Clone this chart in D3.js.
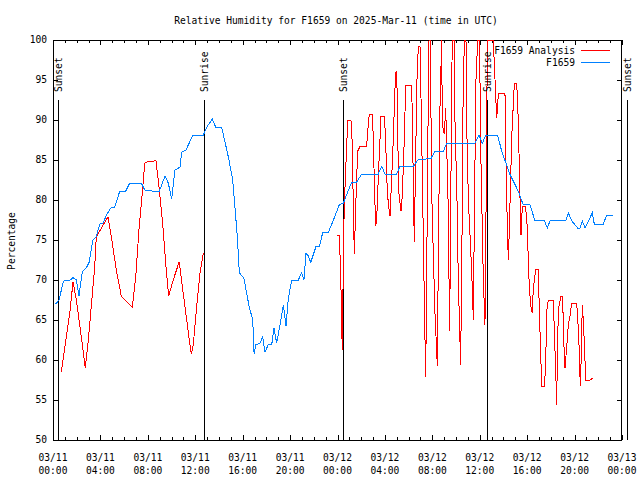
<!DOCTYPE html>
<html>
<head>
<meta charset="utf-8">
<script src="https://cdn.jsdelivr.net/npm/d3@7"></script>
<style>
  html, body { margin: 0; padding: 0; background: #fff; }
  svg { display: block; }
  text { font-family: "DejaVu Sans Mono", monospace; font-size: 9.6px; fill: #000; }
</style>
</head>
<body>
<svg id="chart" width="640" height="480"></svg>
<script>
// ---------- DATA (hours since 2025-03-11 00:00 UTC) ----------
const titleText = "Relative Humidity for F1659 on 2025-Mar-11 (time in UTC)";
const yLabelText = "Percentage";
const seriesNames = ["F1659 Analysis", "F1659"];
const seriesColors = ["#ff0000", "#0080ff"];

const obsHours = [0.23,0.51,0.84,0.99,1.46,1.69,1.97,2.19,2.47,2.81,3.04,3.37,3.65,3.94,4.22,4.50,4.92,5.20,5.63,6.13,6.47,7.45,7.74,8.44,8.97,9.45,9.73,10.01,10.29,10.71,10.86,11.22,11.79,12.68,13.02,13.44,13.73,14.23,14.79,15.16,15.55,15.72,16.11,16.34,16.56,16.85,16.96,17.12,17.46,17.69,17.88,18.16,18.45,18.64,18.87,19.15,19.43,19.66,19.85,20.14,20.69,20.98,21.17,21.34,21.54,21.74,22.19,22.47,22.75,23.22,23.79,24.15,24.49,25.20,25.62,26.04,27.44,27.73,28.01,28.99,29.27,30.40,30.77,31.89,32.23,32.93,33.21,35.60,35.94,36.22,36.50,37.51,37.85,38.55,39.25,39.67,40.24,40.66,41.45,41.70,41.93,43.25,43.47,43.76,44.26,44.46,44.65,44.88,45.50,45.66,46.42,46.71,47.22];
const obsValues = [67.0,67.5,69.6,70.0,70.0,70.3,70.0,68.0,71.0,71.5,72.2,75.0,75.4,77.0,77.1,78.1,79.1,79.1,81.1,81.1,82.1,82.1,81.25,81.1,81.1,83.0,82.1,80.1,83.75,84.1,86.0,86.25,88.1,88.1,89.25,90.1,89.1,89.1,85.4,82.5,75.4,70.9,70.2,68.3,66.6,65.0,60.8,61.9,62.1,62.9,61.0,61.9,61.9,64.0,62.1,64.4,66.9,64.2,67.7,70.0,70.0,70.9,70.0,73.3,73.0,72.2,74.2,74.2,75.9,75.9,78.0,79.4,79.6,82.25,82.25,83.25,83.25,84.2,83.25,83.25,84.2,84.2,85.0,85.2,86.1,86.1,87.1,87.1,88.1,87.1,88.1,88.1,86.1,83.2,81.1,79.4,79.4,77.4,77.4,76.5,77.4,77.4,78.4,77.4,76.5,76.5,77.4,76.5,78.4,77.0,77.0,78.1,78.1];

const anaHours = [0.70,0.84,1.12,1.41,1.69,1.97,2.39,2.67,2.72,2.95,3.23,3.52,3.65,4.64,4.92,5.34,5.76,6.69,6.98,7.25,7.53,7.74,8.01,8.69,8.97,9.25,9.53,9.76,10.10,10.65,10.99,11.28,11.50,11.67,11.84,12.12,12.40,12.68,
  18.00,
  23.93,24.13,24.21,24.30,24.35,24.41,24.49,24.57,24.78,24.86,25.14,25.25,25.33,25.42,25.54,25.70,25.90,26.46,26.55,26.68,26.94,27.02,27.10,27.22,27.31,27.44,27.59,27.67,27.95,28.06,28.15,28.29,28.43,28.57,28.71,28.85,28.94,29.02,29.08,29.19,29.36,29.47,29.64,29.75,30.26,30.34,30.43,30.48,30.60,30.71,30.82,30.96,
  31.08,31.21,31.34,31.44,31.52,31.64,31.72,31.84,31.93,32.05,32.22,32.42,32.52,32.65,32.79,32.84,33.01,33.13,33.24,33.35,33.41,33.46,33.53,33.62,33.68,33.83,33.91,34.08,34.19,34.39,34.50,34.59,34.70,34.84,34.92,35.04,35.32,35.46,35.56,35.68,35.83,35.98,36.10,36.30,36.44,36.57,36.64,37.14,
  37.29,37.43,37.57,38.13,38.22,38.33,38.41,38.49,38.61,38.70,38.92,39.12,39.25,39.40,39.48,39.59,39.82,39.96,40.10,40.18,40.32,40.43,40.52,40.72,40.94,41.00,41.08,41.23,41.45,41.56,41.65,41.78,42.21,42.29,42.41,42.49,42.58,42.69,42.86,43.00,43.05,43.19,43.33,43.47,43.61,43.76,44.18,44.31,44.40,44.48,44.54,44.65,44.74,44.82,44.94,45.30,45.58];
const anaValues = [58.5,60.0,62.9,65.8,69.8,67.5,62.9,59.6,59.0,62.1,66.7,71.7,75.4,77.9,75.4,71.25,68.0,66.6,70.4,76.25,80.8,84.6,84.8,84.9,81.25,77.1,71.7,68.0,69.8,72.3,68.3,65.0,62.5,60.75,62.0,66.7,70.8,73.4,
  null,
  75.6,75.6,73.2,68.6,64.0,61.3,72.3,79.4,86.9,89.9,89.9,86.9,79.4,73.2,79.4,86.1,86.7,86.7,88.6,90.7,90.7,87.75,82.75,76.7,77.75,82.75,87.75,90.5,90.5,87.75,82.75,79.4,78.0,82.75,87.75,94.0,96.1,94.0,87.75,80.7,78.6,80.7,87.75,94.3,94.3,87.75,78.6,74.75,86.1,95.25,99.2,99.2,
  90.0,78.0,66.0,57.9,70.0,90.0,100,100,82.0,75.0,66.0,59.2,75.0,92.0,100,89.4,88.2,91.5,85.0,78.6,69.6,63.6,75.0,92.0,100,100,90.0,80.0,70.0,59.4,75.0,92.0,100,100,88.0,80.0,71.1,65.0,80.0,95.0,100,100,85.0,70.25,64.4,85.0,100,100,
  95.0,90.2,93.3,93.3,84.2,76.25,72.5,76.0,82.9,88.0,94.6,94.6,90.0,80.0,75.6,79.2,79.2,78.1,72.5,69.0,66.7,65.9,69.0,71.3,71.3,67.75,63.6,56.7,56.7,59.4,66.1,67.5,67.5,63.6,58.6,54.4,63.6,66.9,68.0,68.0,63.6,59.0,61.5,64.4,65.5,67.1,67.1,64.0,61.1,56.7,59.4,66.9,64.8,62.3,57.5,57.5,57.8];

const sunHours = [0.45, 12.74, 24.49, 36.64, 48.45];
const sunLabels = ["Sunset", "Sunrise", "Sunset", "Sunrise", "Sunset"];

const yTicks = [50, 55, 60, 65, 70, 75, 80, 85, 90, 95, 100];

// ---------- LAYOUT ----------
const L = 53, R = 622, T = 40, B = 440;
const base = Date.UTC(2025, 2, 11, 0, 0);
const toDate = h => new Date(base + h * 3600e3);

const svg = d3.select("#chart");
const x = d3.scaleUtc().domain([toDate(0), toDate(48)]).range([L, R]);
const y = d3.scaleLinear().domain([50, 100]).range([B, T]);

// Title
svg.append("text").attr("x", 336).attr("y", 23.5).attr("text-anchor", "middle").text(titleText);

// Y label
svg.append("text").attr("transform", `translate(15,241) rotate(-90)`)
  .attr("text-anchor", "middle").text(yLabelText);

const g = svg.append("g").attr("shape-rendering", "crispEdges");

// Sun lines + labels
sunHours.forEach((h, i) => {
  const sx = Math.round(x(toDate(h))) + 0.5;
  g.append("line").attr("x1", sx).attr("x2", sx).attr("y1", y(92.5)).attr("y2", B)
    .attr("stroke", "#000").attr("stroke-width", 1);
  svg.append("text").attr("transform", `translate(${sx + 3.5},${y(93.5)}) rotate(-90)`)
    .attr("text-anchor", "start").text(sunLabels[i]);
});

// Axes ticks (inward, mirrored)
const majorT = x.ticks(d3.utcHour.every(4));
const minorT = x.ticks(d3.utcHour.every(1));
minorT.forEach(d => {
  const tx = Math.round(x(d)) + 0.5;
  const isMajor = d.getUTCHours() % 4 === 0;
  const len = isMajor ? 5 : 3;
  g.append("line").attr("x1", tx).attr("x2", tx).attr("y1", B).attr("y2", B - len).attr("stroke", "#000");
  g.append("line").attr("x1", tx).attr("x2", tx).attr("y1", T).attr("y2", T + len).attr("stroke", "#000");
});
const fmtD = d3.utcFormat("%m/%d"), fmtH = d3.utcFormat("%H:%M");
majorT.forEach(d => {
  const tx = x(d);
  svg.append("text").attr("x", tx).attr("y", 461).attr("text-anchor", "middle").text(fmtD(d));
  svg.append("text").attr("x", tx).attr("y", 473.5).attr("text-anchor", "middle").text(fmtH(d));
});
yTicks.forEach(v => {
  const ty = Math.round(y(v)) + 0.5;
  g.append("line").attr("x1", L).attr("x2", L + 5).attr("y1", ty).attr("y2", ty).attr("stroke", "#000");
  g.append("line").attr("x1", R).attr("x2", R - 5).attr("y1", ty).attr("y2", ty).attr("stroke", "#000");
  svg.append("text").attr("x", 47).attr("y", y(v)).attr("dy", "0.35em").attr("text-anchor", "end").text(v);
});

// Border
g.append("rect").attr("x", L + 0.5).attr("y", T + 0.5).attr("width", R - L - 1).attr("height", B - T)
  .attr("fill", "none").attr("stroke", "#000");

// Series
const line = d3.line().defined(d => d[1] !== null).x(d => x(toDate(d[0]))).y(d => y(d[1]));
const anaData = anaHours.map((h, i) => [h, anaValues[i]]);
const obsData = obsHours.map((h, i) => [h, obsValues[i]]);
g.append("path").datum(anaData).attr("d", line).attr("fill", "none").attr("stroke", seriesColors[0]).attr("stroke-width", 1);
g.append("path").datum(obsData).attr("d", line).attr("fill", "none").attr("stroke", seriesColors[1]).attr("stroke-width", 1);

// Legend
const legY = [50.5, 62.5];
seriesNames.forEach((n, i) => {
  svg.append("text").attr("x", 575).attr("y", legY[i]).attr("dy", "0.35em").attr("text-anchor", "end").text(n);
  g.append("line").attr("x1", 581).attr("x2", 610).attr("y1", Math.floor(legY[i]) + 0.5).attr("y2", Math.floor(legY[i]) + 0.5)
    .attr("stroke", seriesColors[i]).attr("stroke-width", 1);
});
</script>
</body>
</html>
